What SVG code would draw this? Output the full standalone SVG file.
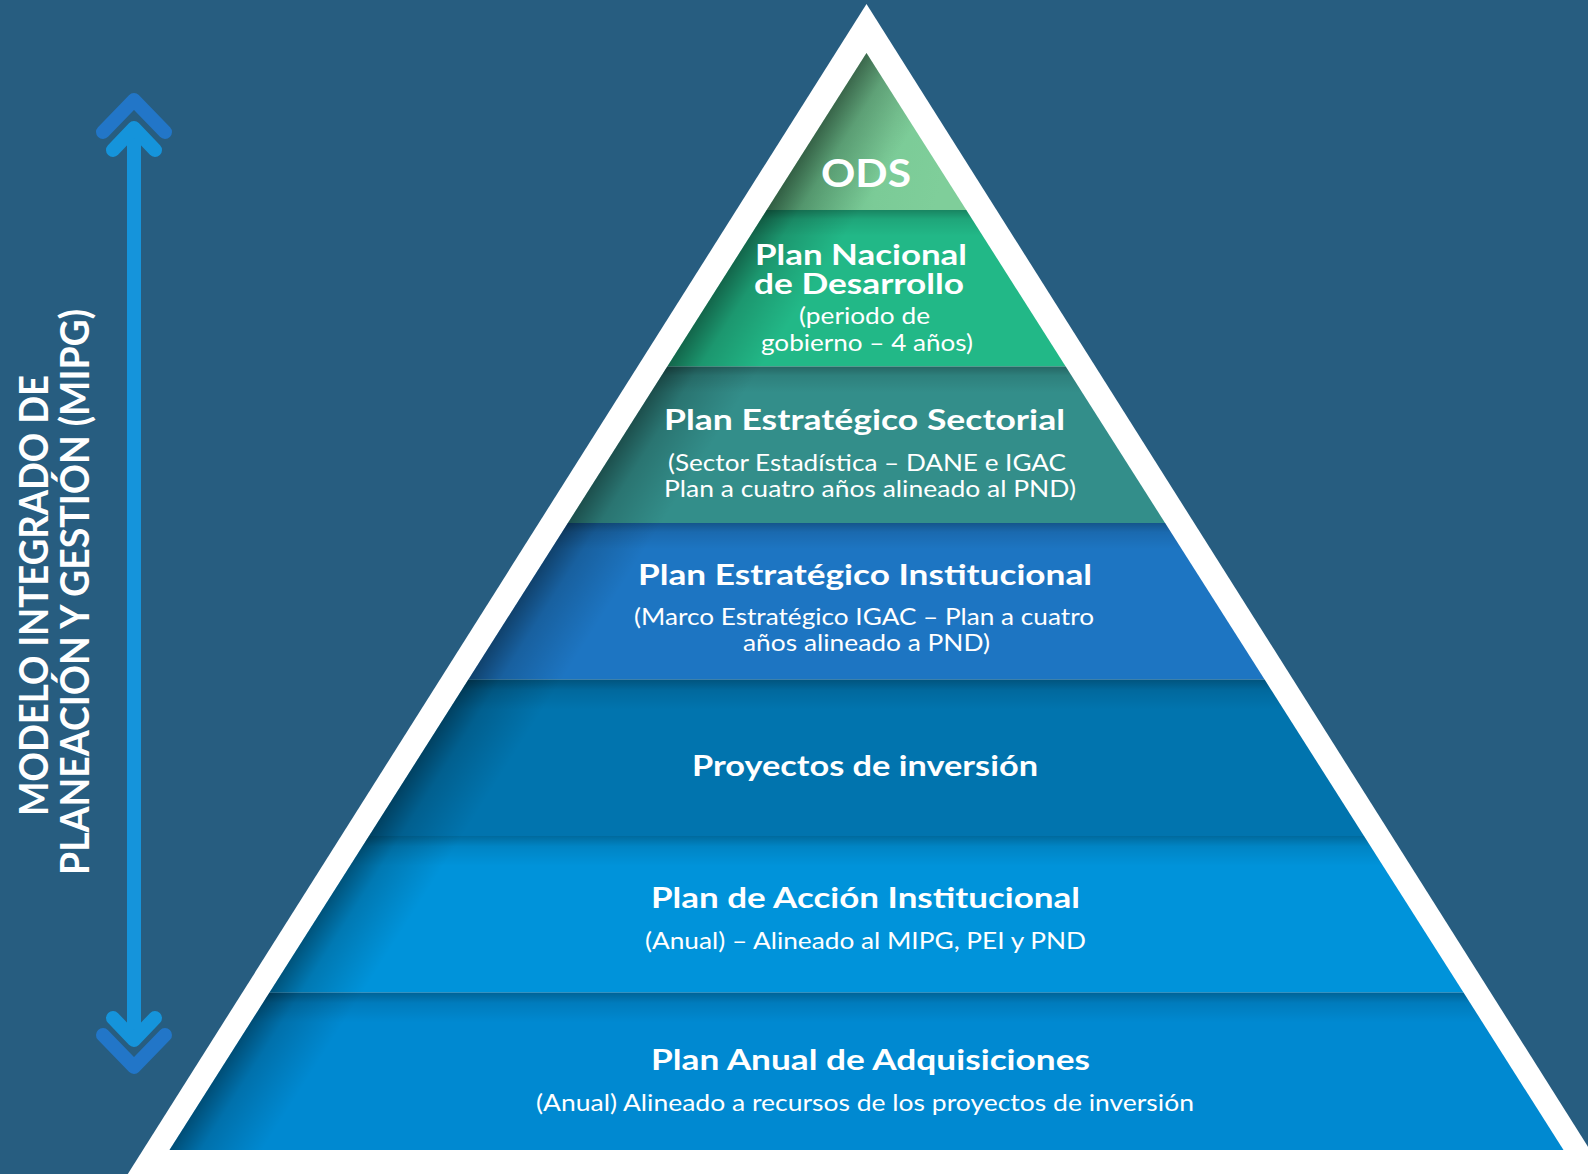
<svg xmlns="http://www.w3.org/2000/svg" width="1588" height="1174" viewBox="0 0 1588 1174">
<defs>
<style>
.t{font-family:Lato,"Open Sans","Liberation Sans",sans-serif;fill:#ffffff;text-anchor:middle}
.b{font-weight:700;font-size:28px}
.r{font-weight:400;font-size:24px}
.side{font-family:Lato,"Open Sans","Liberation Sans",sans-serif;font-weight:700;font-size:40px;fill:#ffffff;text-anchor:middle}
.shade{fill:url(#topShade)}
.ls{fill:url(#leftShade)}
.arrowIn{fill:none;stroke:#1594db;stroke-width:14;stroke-linecap:round;stroke-linejoin:round}
.arrowOut{fill:none;stroke:#2276c8;stroke-width:14;stroke-linecap:round;stroke-linejoin:round}
</style>
<clipPath id="tri"><polygon points="866.5,53 1563.5,1150 169.5,1150"/></clipPath>
<linearGradient id="odsGrad" x1="0" y1="0" x2="1" y2="0.2">
<stop offset="0" stop-color="#4a9a6b"/>
<stop offset="0.45" stop-color="#6cbe8b"/>
<stop offset="0.7" stop-color="#7bcb97"/>
<stop offset="1" stop-color="#7fce9a"/>
</linearGradient>
<linearGradient id="topShade" x1="0" y1="0" x2="0" y2="1">
<stop offset="0" stop-color="#000000" stop-opacity="0.28"/>
<stop offset="0.35" stop-color="#000000" stop-opacity="0.1"/>
<stop offset="1" stop-color="#000000" stop-opacity="0"/>
</linearGradient>
<linearGradient id="leftShade" gradientUnits="userSpaceOnUse" x1="866.5" y1="53" x2="934" y2="96">
<stop offset="0" stop-color="#000000" stop-opacity="0.45"/>
<stop offset="0.35" stop-color="#000000" stop-opacity="0.18"/>
<stop offset="1" stop-color="#000000" stop-opacity="0"/>
</linearGradient>
</defs>
<rect x="0" y="0" width="1588" height="1174" fill="#275d80"/>
<polygon points="866.5,4 124,1180 1609,1180" fill="#ffffff"/>

<g id="node-ods">
<polygon points="866.5,53 966.3,210 766.7,210" fill="url(#odsGrad)"/>
<polygon class="ls" points="866.5,53 966.3,210 766.7,210"/>
<text class="t" x="866" y="187" font-weight="700" font-size="39" textLength="90" lengthAdjust="spacingAndGlyphs">ODS</text>
</g>

<g id="node-pnd">
<polygon points="766.7,210 966.3,210 1065.7,366.5 667.3,366.5" fill="#22b887"/>
<rect x="600" y="210" width="500" height="26" class="shade" clip-path="url(#tri)"/>
<polygon class="ls" points="766.7,210 966.3,210 1065.7,366.5 667.3,366.5"/>
<text class="t b" x="861" y="265" font-size="26" textLength="212" lengthAdjust="spacingAndGlyphs">Plan Nacional</text>
<text class="t b" x="859" y="294" font-size="26" textLength="210" lengthAdjust="spacingAndGlyphs">de Desarrollo</text>
<text class="t r" x="864.5" y="324" textLength="131" lengthAdjust="spacingAndGlyphs">(periodo de</text>
<text class="t r" x="867" y="351" textLength="212" lengthAdjust="spacingAndGlyphs">gobierno – 4 años)</text>
</g>

<g id="node-pes">
<polygon points="667.3,366.5 1065.7,366.5 1165.1,523 567.9,523" fill="#338e8a"/>
<rect x="500" y="366.5" width="700" height="26" class="shade" clip-path="url(#tri)"/>
<polygon class="ls" points="667.3,366.5 1065.7,366.5 1165.1,523 567.9,523"/>
<text class="t b" x="864.5" y="430" textLength="401" lengthAdjust="spacingAndGlyphs">Plan Estratégico Sectorial</text>
<text class="t r" x="867" y="471" textLength="398" lengthAdjust="spacingAndGlyphs">(Sector Estadística – DANE e IGAC</text>
<text class="t r" x="870" y="497" textLength="412" lengthAdjust="spacingAndGlyphs">Plan a cuatro años alineado al PND)</text>
</g>

<g id="node-pei">
<polygon points="567.9,523 1165.1,523 1264.6,679.5 468.4,679.5" fill="#1d75c2"/>
<rect x="400" y="523" width="900" height="26" class="shade" clip-path="url(#tri)"/>
<polygon class="ls" points="567.9,523 1165.1,523 1264.6,679.5 468.4,679.5"/>
<text class="t b" x="865" y="585" textLength="454" lengthAdjust="spacingAndGlyphs">Plan Estratégico Institucional</text>
<text class="t r" x="864" y="625" textLength="460" lengthAdjust="spacingAndGlyphs">(Marco Estratégico IGAC – Plan a cuatro</text>
<text class="t r" x="866.5" y="651" textLength="247" lengthAdjust="spacingAndGlyphs">años alineado a PND)</text>
</g>

<g id="node-proyectos">
<polygon points="468.4,679.5 1264.6,679.5 1364,836 369,836" fill="#0174ae"/>
<rect x="300" y="679.5" width="1100" height="30" class="shade" clip-path="url(#tri)"/>
<polygon class="ls" points="468.4,679.5 1264.6,679.5 1364,836 369,836"/>
<text class="t b" x="865" y="776" textLength="346" lengthAdjust="spacingAndGlyphs">Proyectos de inversión</text>
</g>

<g id="node-pai">
<polygon points="369,836 1364,836 1463.5,992.5 269.5,992.5" fill="#0093da"/>
<rect x="200" y="836" width="1300" height="30" class="shade" clip-path="url(#tri)"/>
<polygon class="ls" points="369,836 1364,836 1463.5,992.5 269.5,992.5"/>
<text class="t b" x="865.5" y="908" textLength="429" lengthAdjust="spacingAndGlyphs">Plan de Acción Institucional</text>
<text class="t r" x="865.5" y="949" textLength="441" lengthAdjust="spacingAndGlyphs">(Anual) – Alineado al MIPG, PEI y PND</text>
</g>

<g id="node-paa">
<polygon points="269.5,992.5 1463.5,992.5 1563.5,1150 169.5,1150" fill="#0089d1"/>
<rect x="150" y="992.5" width="1450" height="30" class="shade" clip-path="url(#tri)"/>
<polygon class="ls" points="269.5,992.5 1463.5,992.5 1563.5,1150 169.5,1150"/>
<text class="t b" x="870.5" y="1070" textLength="439" lengthAdjust="spacingAndGlyphs">Plan Anual de Adquisiciones</text>
<text class="t r" x="865" y="1111" textLength="658" lengthAdjust="spacingAndGlyphs">(Anual) Alineado a recursos de los proyectos de inversión</text>
</g>

<g id="node-mipg">
<text class="side" transform="translate(47.6,595.5) rotate(-90)" textLength="441" lengthAdjust="spacingAndGlyphs">MODELO INTEGRADO DE</text>
<text class="side" transform="translate(89,592) rotate(-90)" textLength="566" lengthAdjust="spacingAndGlyphs">PLANEACIÓN Y GESTIÓN (MIPG)</text>
</g>

<g id="connectors">
<line x1="134" y1="130" x2="134" y2="1038" stroke="#1594db" stroke-width="14"/>
<polyline class="arrowOut" points="103,132 134,100 165,132"/>
<polyline class="arrowIn" points="113,150 134,128 155,150"/>
<polyline class="arrowOut" points="103,1035 134,1067 165,1035"/>
<polyline class="arrowIn" points="113,1018 134,1040 155,1018"/>
</g>
</svg>
